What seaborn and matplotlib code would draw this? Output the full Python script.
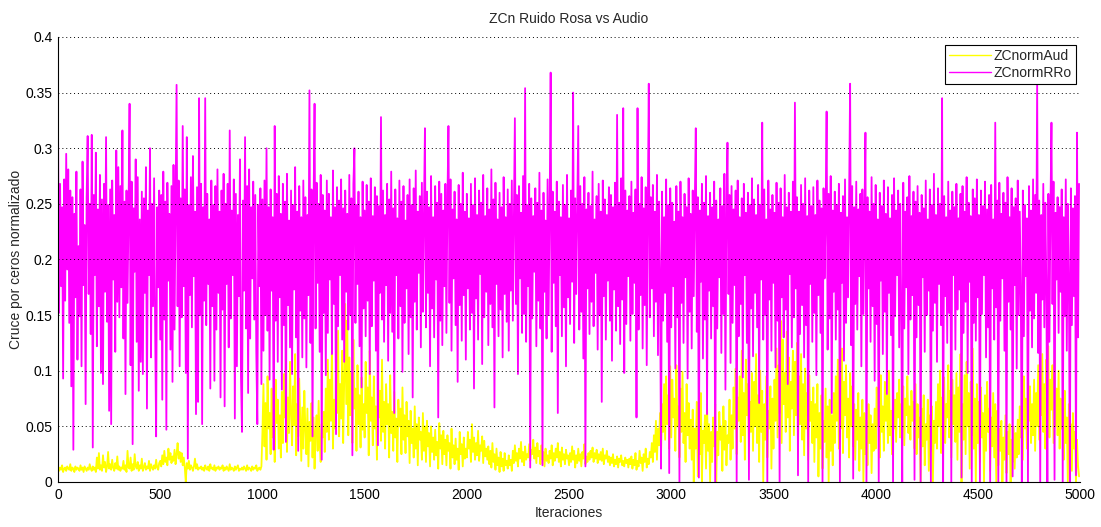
import numpy as np
import pandas as pd
import seaborn as sns
import matplotlib.pyplot as plt

# Zero-crossing rate values, sampled every 5 iterations, in thousandths
iteraciones = np.arange(0, 5000, 5)

zc_norm_aud_milesimas = [
    14,10,13,11,15,9,12,13,10,14,12,11,16,10,13,12,9,14,11,13,
    12,10,15,11,13,9,14,12,10,13,11,16,12,10,14,11,13,9,22,12,
    26,11,15,10,24,13,18,9,14,27,12,16,11,20,13,10,17,12,23,11,
    14,10,13,12,19,11,15,9,28,13,12,22,10,16,11,25,14,12,18,10,
    15,12,21,10,13,17,11,14,12,19,10,16,13,11,15,12,20,13,11,17,
    19,14,24,16,28,18,22,15,30,20,26,17,23,19,29,16,25,35,21,27,
    18,26,15,22,13,0,17,12,19,11,15,13,10,14,21,12,16,11,13,12,
    14,11,13,10,15,12,11,14,10,16,12,13,11,15,10,13,12,14,11,13,
    12,15,10,13,11,14,12,10,16,11,13,12,10,14,11,13,15,10,12,11,
    13,11,14,12,10,15,11,13,12,10,14,11,13,12,15,10,12,13,11,14,
    45,88,32,71,20,95,48,62,25,84,40,69,18,92,53,74,30,60,22,81,
    35,97,58,120,27,76,44,108,62,33,86,51,115,24,70,41,93,55,19,67,
    30,82,48,25,66,14,54,37,71,22,58,12,45,60,28,73,35,18,52,40,
    63,27,84,45,110,38,92,55,125,30,74,48,103,62,136,41,88,57,118,35,
    90,160,70,145,42,112,60,98,35,128,66,84,28,105,52,78,31,94,47,70,
    40,108,62,85,24,118,55,76,33,95,48,68,20,102,58,82,37,110,45,72,
    30,88,52,70,22,96,44,63,28,81,40,57,18,74,50,66,25,85,38,60,
    26,72,41,55,17,64,35,48,22,68,30,52,15,58,38,45,20,62,28,50,
    18,55,32,44,14,50,27,40,20,47,24,36,12,53,30,42,16,46,25,38,
    15,42,28,35,12,48,22,33,16,39,20,30,11,45,25,34,14,40,21,30,
    22,45,30,38,18,52,27,40,20,35,24,46,19,33,28,41,17,37,23,30,
    20,32,16,28,13,35,18,25,11,30,15,22,9,27,14,21,10,26,15,19,
    12,24,15,20,10,28,17,33,19,26,14,30,21,36,18,27,15,32,20,25,
    22,34,19,29,25,38,21,31,17,35,23,28,16,33,20,27,14,30,19,24,
    17,28,21,33,15,26,19,30,22,35,18,27,14,31,20,25,16,29,21,24,
    15,26,18,32,20,28,13,24,17,30,19,25,14,27,21,34,16,23,18,26,
    20,28,22,31,18,26,21,29,17,25,20,27,19,30,16,24,21,28,18,23,
    15,22,17,25,14,20,16,23,13,21,18,24,15,19,14,22,17,20,13,21,
    16,23,12,20,15,26,11,19,14,28,17,22,10,25,18,30,13,21,16,27,
    22,35,18,42,27,55,20,48,33,62,25,70,45,88,38,95,52,78,30,104,
    40,92,58,75,28,105,50,68,22,84,45,99,35,62,18,88,42,71,30,56,
    20,65,0,48,30,72,5,55,25,80,0,46,35,60,12,70,28,52,0,45,
    18,58,32,70,0,45,24,63,38,50,10,68,29,55,15,42,35,74,20,60,
    30,85,48,102,25,76,55,95,36,118,42,80,20,110,60,88,33,72,45,98,
    28,90,50,115,35,78,18,100,45,82,0,70,38,95,22,64,48,86,12,75,
    30,92,55,120,40,105,62,145,35,128,70,98,45,135,58,112,28,90,66,118,
    42,108,60,125,30,95,52,115,38,88,24,102,48,80,20,96,55,72,35,85,
    18,70,40,88,5,62,30,78,12,55,36,84,22,68,0,74,28,60,15,80,
    35,95,55,110,30,82,48,120,26,90,60,105,40,75,22,98,50,86,32,70,
    20,65,38,80,10,58,30,74,0,62,25,55,15,70,35,60,8,52,28,66,
    30,85,50,72,22,96,45,68,28,90,55,78,35,100,42,64,25,82,48,74,
    36,80,58,92,40,70,52,86,33,75,60,95,44,68,38,82,55,72,30,88,
    25,70,40,58,0,66,32,78,15,52,38,74,10,60,28,68,0,55,35,72,
    30,88,50,100,26,76,45,94,35,70,58,105,40,82,22,92,52,78,36,98,
    20,85,45,115,0,70,38,96,25,108,50,80,12,90,42,120,30,75,0,88,
    35,72,18,85,40,62,0,78,28,90,45,66,10,58,32,80,22,70,0,64,
    15,48,28,55,0,40,20,60,8,45,25,52,0,38,18,50,12,44,22,56,
    25,68,40,82,20,95,48,75,30,100,55,86,35,70,42,92,28,80,50,105,
    38,96,60,115,45,88,30,110,55,122,40,92,65,105,35,118,50,84,42,100,
    30,75,48,66,20,82,35,58,0,70,25,52,10,62,30,45,0,38,15,5,
]

zc_norm_rro_milesimas = [
    322,152,268,176,247,93,272,163,295,191,281,143,262,86,256,29,241,166,279,110,
    212,149,263,104,288,177,231,70,256,311,169,250,133,312,31,258,186,296,122,245,
    158,276,98,254,88,268,171,310,144,249,64,263,52,271,182,240,117,298,162,283,
    148,266,175,316,129,252,79,262,161,244,340,105,270,34,246,189,290,126,274,82,
    236,108,261,97,255,170,283,66,244,186,300,112,250,158,273,140,41,247,175,262,
    128,258,74,279,146,252,47,269,181,241,119,266,90,285,137,246,357,158,271,104,
    255,148,320,176,263,98,310,21,249,168,274,139,293,185,243,61,265,72,345,150,
    268,52,247,163,345,141,259,178,236,84,271,158,249,91,266,137,281,170,243,76,
    262,155,277,68,250,178,268,121,316,147,244,186,272,57,259,104,240,167,290,95,
    45,253,172,310,138,266,80,281,129,247,183,270,146,258,117,52,249,176,264,88,
    254,118,271,150,300,136,247,92,263,172,238,29,320,145,259,108,275,166,241,83,
    268,141,252,36,277,159,235,121,262,97,249,173,283,130,243,28,266,154,238,112,
    271,147,256,103,240,168,352,125,263,41,247,340,138,269,179,250,117,276,20,258,
    152,244,96,271,134,259,182,238,115,280,160,247,43,265,140,253,186,272,128,246,
    108,262,171,241,137,276,150,255,24,268,300,143,249,178,261,122,238,85,270,156,
    244,131,267,163,252,97,273,140,239,181,265,118,257,33,248,170,328,146,262,126,
    240,177,268,109,254,152,279,135,246,62,263,186,237,129,271,158,252,99,266,143,
    235,174,258,115,272,148,249,76,264,162,280,137,243,188,257,121,269,153,241,318,
    139,261,170,247,104,275,156,238,130,266,182,251,58,270,145,259,123,244,176,268,
    134,253,320,161,272,118,245,183,261,141,236,90,267,159,250,127,278,168,243,110,
    259,174,237,137,268,152,249,84,273,165,240,128,262,187,251,106,276,148,239,171,
    264,123,245,160,281,139,254,67,269,178,236,131,260,155,247,112,274,169,238,144,
    263,118,250,172,271,145,237,327,160,258,97,266,183,242,134,275,151,354,126,249,
    176,268,13,255,147,239,189,264,122,251,163,278,138,244,15,260,171,235,129,272,
    150,246,368,117,261,179,243,140,270,62,252,186,238,131,267,157,249,104,276,166,
    237,142,262,180,350,125,255,169,241,320,137,266,153,250,111,274,14,245,174,260,
    133,248,162,279,140,236,188,257,119,268,150,243,72,271,167,254,128,240,181,265,
    145,258,109,247,173,269,136,330,158,251,124,273,164,336,98,262,142,244,185,257,
    127,270,151,242,179,263,58,336,137,250,168,274,120,246,159,265,105,239,358,148,
    256,174,267,131,243,162,276,114,252,188,12,261,145,238,170,272,126,249,8,264,
    139,251,176,234,102,266,148,243,0,270,161,238,125,259,184,247,93,273,153,241,
    120,262,167,249,318,135,256,4,244,180,268,111,251,146,275,61,239,172,260,129,
    247,158,270,0,253,138,236,184,264,116,248,151,277,83,241,305,169,258,107,266,
    143,245,177,262,0,271,131,238,160,255,94,268,186,242,125,260,2,249,156,273,
    113,254,170,240,139,267,71,249,182,323,128,263,150,236,0,271,164,245,118,258,
    179,242,103,269,145,251,0,264,166,238,130,276,155,247,88,260,187,243,121,270,
    148,341,174,256,6,243,133,267,159,250,112,273,141,239,0,262,178,248,126,265,
    152,240,96,271,168,253,134,246,0,264,183,237,333,119,259,147,275,62,244,171,
    261,128,249,155,268,0,242,179,257,109,272,143,238,166,254,358,123,266,3,247,
    160,270,137,245,185,259,104,263,151,239,314,0,256,174,243,126,274,158,250,91,
    267,142,236,0,260,181,248,115,271,153,241,79,265,170,237,132,258,0,273,149,
    244,186,262,121,250,157,0,269,138,243,175,256,97,275,146,239,168,261,2,252,
    130,266,159,242,0,258,184,246,117,271,150,236,172,263,0,249,136,277,161,240,
    108,264,178,250,141,345,0,257,167,238,125,270,152,244,0,261,186,247,119,268,
    155,237,173,259,4,266,134,243,162,274,98,251,180,239,0,263,143,255,127,272,
    166,240,0,262,151,248,186,270,112,245,139,258,0,267,174,236,128,323,157,253,
    0,269,145,241,183,260,118,251,0,274,162,238,137,264,5,247,177,255,102,271,
    150,243,168,0,262,131,249,185,237,0,266,154,244,121,272,147,258,170,360,116,
    253,0,240,164,268,139,251,176,0,259,126,245,323,160,270,2,242,182,256,134,
    247,171,263,0,238,149,272,118,250,183,0,264,141,246,167,257,6,314,130,268,
]

series_names = ["ZCnormAud", "ZCnormRRo"]
series_colors = ["#ffff00", "#ff00ff"]
y_ticks = [0, 0.05, 0.1, 0.15, 0.2, 0.25, 0.3, 0.35, 0.4]
x_ticks = [0, 500, 1000, 1500, 2000, 2500, 3000, 3500, 4000, 4500, 5000]

zc_aud = np.array(zc_norm_aud_milesimas) / 1000.0
zc_rro = np.array(zc_norm_rro_milesimas) / 1000.0

df = pd.DataFrame({
    "Iteraciones": np.concatenate([iteraciones, iteraciones]),
    "valor": np.concatenate([zc_aud, zc_rro]),
    "serie": [series_names[0]] * len(zc_aud) + [series_names[1]] * len(zc_rro),
})

sns.set_style("white")
plt.rcParams["font.family"] = ["Liberation Sans", "DejaVu Sans"]

fig, ax = plt.subplots(figsize=(11.01, 5.27), dpi=100)
fig.subplots_adjust(left=0.0527, right=0.981, bottom=0.0854, top=0.9298)

sns.lineplot(data=df, x="Iteraciones", y="valor", hue="serie",
             hue_order=series_names, palette=series_colors,
             estimator=None, sort=False, linewidth=1.3, ax=ax)

ax.set_xlim(0, 5000)
ax.set_ylim(0, 0.4)
ax.set_xticks(x_ticks)
ax.set_yticks(y_ticks)
ax.set_yticklabels([f"{v:g}" for v in y_ticks])
ax.tick_params(direction="in", length=7, width=0.8, labelsize=10,
               colors="black", top=False, right=False, pad=4)

ax.set_axisbelow(False)
ax.yaxis.grid(True, color="black", linestyle=(0, (1, 3)), linewidth=0.7)
ax.xaxis.grid(False)
for side in ["top", "right"]:
    ax.spines[side].set_visible(False)
for side in ["left", "bottom"]:
    ax.spines[side].set_color("black")
    ax.spines[side].set_linewidth(0.8)

ax.set_title("ZCn Ruido Rosa vs Audio", fontsize=10, pad=10)
ax.set_xlabel("Iteraciones", fontsize=10, labelpad=3)
ax.set_ylabel("Cruce por ceros normalizado", fontsize=10, labelpad=1.5)

leg = ax.legend(loc="upper right", bbox_to_anchor=(0.996, 0.982),
                borderaxespad=0, frameon=True, fancybox=False,
                edgecolor="black", framealpha=1, fontsize=10,
                handlelength=3, handletextpad=0.2, borderpad=0.3,
                labelspacing=0.2)
leg.get_frame().set_linewidth(0.8)
for line in leg.get_lines():
    line.set_linewidth(1.0)

fig.savefig("out.png", dpi=100)
